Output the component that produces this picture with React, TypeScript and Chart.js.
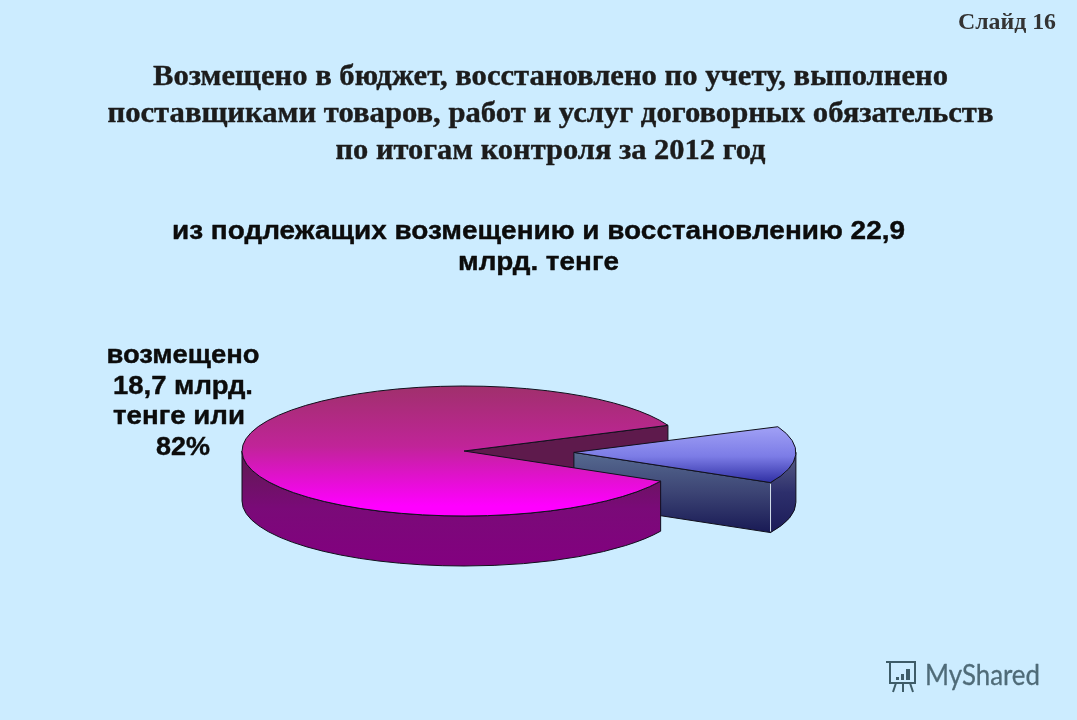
import React, { useEffect, useRef } from "react";
import { Chart, registerables } from "chart.js";

Chart.register(...registerables);

const categories = ["возмещено", "не возмещено"];
const seriesValues = [18.7, 4.2];
const slideLabel = "Слайд 16";
const titleLines = [
  "Возмещено в бюджет, восстановлено по учету, выполнено",
  "поставщиками товаров, работ и услуг договорных обязательств",
  "по итогам контроля за 2012 год",
];
const subtitleLines = ["из подлежащих возмещению и восстановлению 22,9", "млрд. тенге"];
const sliceLabelLines = ["возмещено", "18,7 млрд.", "тенге или", "82%"];
const watermark = "MyShared";

const BG = "#CCECFF";
const SQUASH = 65 / 222;
const DEPTH = 50;
const EXPLODE = 110;
const WARP = (8.3 * Math.PI) / 180;
const TAU = Math.PI * 2;

// foreshortening of the cut lines, as in the source's perspective view
const warp = (t: number) => t - WARP * Math.sin(2 * t);

function fitted(ctx: CanvasRenderingContext2D, text: string, cx: number, y: number, font: string, width: number, color: string, heavy = 0) {
  ctx.save();
  ctx.font = font;
  ctx.fillStyle = color;
  ctx.strokeStyle = color;
  ctx.textAlign = "left";
  ctx.textBaseline = "alphabetic";
  const w = ctx.measureText(text).width;
  ctx.translate(cx - width / 2, y);
  ctx.scale(width / w, 1);
  ctx.fillText(text, 0, 0);
  if (heavy) {
    ctx.lineWidth = heavy;
    ctx.lineJoin = "round";
    ctx.strokeText(text, 0, 0);
  }
  ctx.restore();
}

function vGrad(ctx: CanvasRenderingContext2D, y0: number, y1: number, stops: string[]) {
  const g = ctx.createLinearGradient(0, y0, 0, y1);
  stops.forEach((c, i) => g.addColorStop(i / (stops.length - 1), c));
  return g;
}

function drawPie3D(chart: any) {
  const ctx: CanvasRenderingContext2D = chart.ctx;
  const [main, wedge] = chart.getDatasetMeta(0).data as any[];
  const cx = main.x;
  const cy = main.y;
  const rx = main.outerRadius;
  const ry = rx * SQUASH;
  const mid = (wedge.startAngle + wedge.endAngle) / 2;
  const wx = cx + Math.cos(mid) * EXPLODE;
  const wy = cy + Math.sin(mid) * EXPLODE * SQUASH;
  const mainStart = warp(main.startAngle);
  const mainEnd = warp(main.endAngle);
  const wedgeStart = warp(wedge.startAngle) - TAU;
  const wedgeEnd = warp(wedge.endAngle) - TAU;
  const pt = (x: number, y: number, a: number) => [x + rx * Math.cos(a), y + ry * Math.sin(a)];

  const finish = (fill: CanvasGradient | string) => {
    ctx.closePath();
    ctx.fillStyle = fill;
    ctx.fill();
    ctx.strokeStyle = "#10101c";
    ctx.lineWidth = 1;
    ctx.stroke();
  };
  const cutWall = (x: number, y: number, a: number, fill: CanvasGradient | string) => {
    const [px, py] = pt(x, y, a);
    ctx.beginPath();
    ctx.moveTo(x, y);
    ctx.lineTo(px, py);
    ctx.lineTo(px, py + DEPTH);
    ctx.lineTo(x, y + DEPTH);
    finish(fill);
  };
  const rimWall = (x: number, y: number, a: number, b: number, fill: CanvasGradient | string) => {
    ctx.beginPath();
    ctx.ellipse(x, y, rx, ry, 0, a, b, false);
    ctx.ellipse(x, y + DEPTH, rx, ry, 0, b, a, true);
    finish(fill);
  };
  const topFace = (x: number, y: number, a: number, b: number, fill: CanvasGradient | string) => {
    ctx.beginPath();
    ctx.moveTo(x, y);
    ctx.ellipse(x, y, rx, ry, 0, a, b, false);
    finish(fill);
  };

  ctx.save();
  // main slice: cut wall seen through the gap
  cutWall(cx, cy, mainEnd, "#5e1a4c");
  // exploded slice walls
  cutWall(wx, wy, wedgeEnd, vGrad(ctx, wy, wy + 80, ["#566a90", "#3c4474", "#191a55"]));
  rimWall(wx, wy, 0, wedgeEnd, vGrad(ctx, wy, wy + 80, ["#5a6088", "#2d2f6c", "#1c1c58"]));
  const [hx, hy] = pt(wx, wy, wedgeEnd);
  ctx.beginPath();
  ctx.moveTo(hx, hy + 1);
  ctx.lineTo(hx, hy + DEPTH - 1);
  ctx.strokeStyle = "#d8e4f0";
  ctx.stroke();
  // main slice: front wall and top
  rimWall(cx, cy, mainStart, Math.PI, vGrad(ctx, cy, cy + 115, ["#5e1c4e", "#7a0a78", "#830080"]));
  topFace(cx, cy, mainStart, mainEnd, vGrad(ctx, cy - ry, cy + ry - 10, ["#a0306c", "#c02498", "#ff00ff"]));
  // exploded slice top
  topFace(wx, wy, wedgeStart, wedgeEnd, vGrad(ctx, wy - 22, wy + 30, ["#9c9cf4", "#7c7ce6", "#3030a4"]));
  ctx.restore();
}

const pie3DPlugin = {
  id: "pie3d",
  beforeDatasetDraw(chart: any) {
    drawPie3D(chart);
    return false;
  },
};

const textPlugin = {
  id: "slideText",
  afterDraw(chart: any) {
    const ctx: CanvasRenderingContext2D = chart.ctx;
    const serif = 'bold 30px "Liberation Serif"';
    const sans = 'bold 25px "Liberation Sans"';
    fitted(ctx, slideLabel, 1007, 29, 'bold 23px "Liberation Serif"', 98, "#333333");
    const titleW = [795, 886, 430];
    titleLines.forEach((t, i) => fitted(ctx, t, 550.5, 85 + i * 37, serif, titleW[i], "#1c1c1c", 0.4));
    const subW = [733, 161];
    subtitleLines.forEach((t, i) => fitted(ctx, t, 538.5, 238.5 + i * 31, sans, subW[i], "#0c0c0c", 0.4));
    const lblW = [153, 140, 132, 54];
    sliceLabelLines.forEach((t, i) => fitted(ctx, t, 183 - (i === 2 ? 4 : 0), 363 + i * 30.6, sans, lblW[i], "#0c0c0c", 0.4));

    // watermark
    fitted(ctx, watermark, 982.5, 685, '29px "Lato"', 115, "#4f6b78", 0.3);
    ctx.save();
    ctx.strokeStyle = "#3e5c68";
    ctx.fillStyle = "#3e5c68";
    ctx.lineWidth = 2;
    ctx.beginPath();
    ctx.moveTo(886, 662);
    ctx.lineTo(916, 662);
    ctx.moveTo(890, 662);
    ctx.lineTo(890, 683);
    ctx.lineTo(915, 683);
    ctx.lineTo(915, 662);
    ctx.moveTo(896, 683);
    ctx.lineTo(893, 692);
    ctx.moveTo(903, 683);
    ctx.lineTo(903, 692);
    ctx.moveTo(910, 683);
    ctx.lineTo(913, 692);
    ctx.stroke();
    ctx.fillRect(896, 677, 3, 3);
    ctx.fillRect(901, 674, 3, 6);
    ctx.fillRect(906, 669, 4, 11);
    ctx.restore();
  },
};

export default function App() {
  const ref = useRef<HTMLCanvasElement>(null);
  useEffect(() => {
    document.body.style.margin = "0";
    document.body.style.background = BG;
    const chart = new Chart(ref.current as HTMLCanvasElement, {
      type: "pie",
      data: {
        labels: categories,
        datasets: [{ data: seriesValues, backgroundColor: ["#FF00FF", "#8080FF"], borderWidth: 0 }],
      },
      options: {
        responsive: false,
        animation: false,
        devicePixelRatio: 1,
        radius: 222,
        rotation: 125.5,
        layout: { padding: { top: 182, right: 149 } },
        events: [],
        plugins: { legend: { display: false }, title: { display: false }, tooltip: { enabled: false } },
      } as any,
      plugins: [pie3DPlugin, textPlugin],
    });
    return () => chart.destroy();
  }, []);
  return <canvas ref={ref} width={1077} height={720} style={{ display: "block", background: BG }} />;
}
